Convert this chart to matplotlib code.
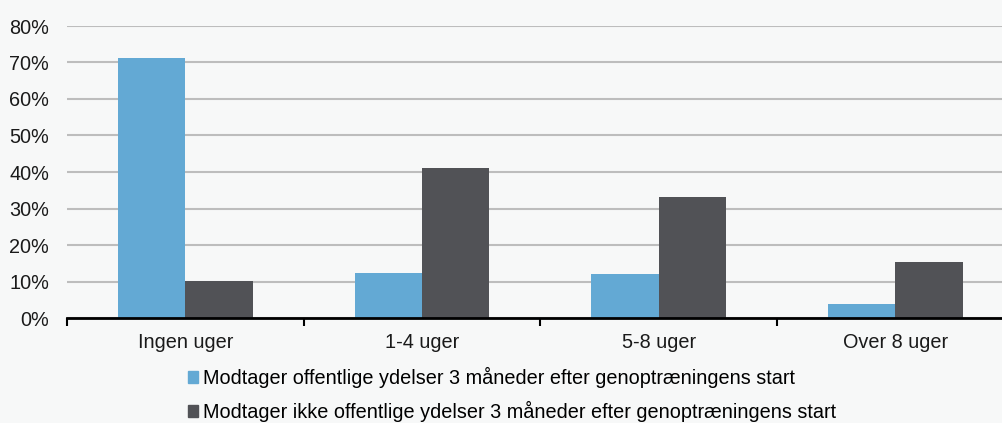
import matplotlib
matplotlib.use("Agg")
import matplotlib.pyplot as plt
from matplotlib.patches import Patch
import numpy as np

categories = ["Ingen uger", "1-4 uger", "5-8 uger", "Over 8 uger"]
series_names = ["Modtager offentlige ydelser 3 måneder efter genoptræningens start",
                "Modtager ikke offentlige ydelser 3 måneder efter genoptræningens start"]
modtager = [71.3, 12.4, 12.1, 3.8]
ikke_modtager = [10.2, 41.0, 33.1, 15.3]
yticks = [0, 10, 20, 30, 40, 50, 60, 70, 80]

blue = "#63a9d4"
dark = "#515256"
bg = "#f7f8f8"

plt.rcParams['font.family'] = ['Liberation Sans', 'DejaVu Sans']
FS = 14.3

W, H = 1003, 423
fig = plt.figure(figsize=(W/100, H/100), dpi=100, facecolor=bg)
left, right, bottom, top = 67, 1013.7, 318, 26
ax = fig.add_axes([left/W, 1-bottom/H, (right-left)/W, (bottom-top)/H])
ax.set_facecolor(bg)

x = np.arange(len(categories))
bw = 0.285
ax.bar(x - bw/2, modtager, width=bw, color=blue, zorder=3)
ax.bar(x + bw/2, ikke_modtager, width=bw, color=dark, zorder=3)

ax.set_xlim(-0.5, len(categories) - 0.5)
ax.set_ylim(0, 80)
ax.set_yticks(yticks)
ax.set_yticklabels([f"{v}%" for v in yticks], fontsize=FS, color="#1a1a1a")
ax.tick_params(axis='y', length=0, pad=13)
ax.yaxis.grid(True, color="#bdbdbd", linewidth=1.5, zorder=0)

ax.set_xticks(x)
ax.set_xticklabels(categories, fontsize=FS, color="#1a1a1a")
ax.tick_params(axis='x', which='major', length=0, pad=10.5)
ax.set_xticks(np.arange(-0.5, len(categories)), minor=True)
ax.tick_params(axis='x', which='minor', length=6, width=1.5, color="black", direction='out')

for s in ['top', 'right', 'left']:
    ax.spines[s].set_visible(False)
ax.spines['bottom'].set_linewidth(2)
ax.spines['bottom'].set_color('black')
ax.spines['bottom'].set_zorder(4)

handles = [Patch(color=blue), Patch(color=dark)]
fig.legend(handles, series_names, loc='upper left',
           bbox_to_anchor=(188/W, 1-367/H), frameon=False, fontsize=FS,
           handlelength=0.5, handleheight=0.5, handletextpad=0.25,
           labelspacing=0.65, borderpad=0, borderaxespad=0)

fig.savefig("out.png", dpi=100, facecolor=bg)
